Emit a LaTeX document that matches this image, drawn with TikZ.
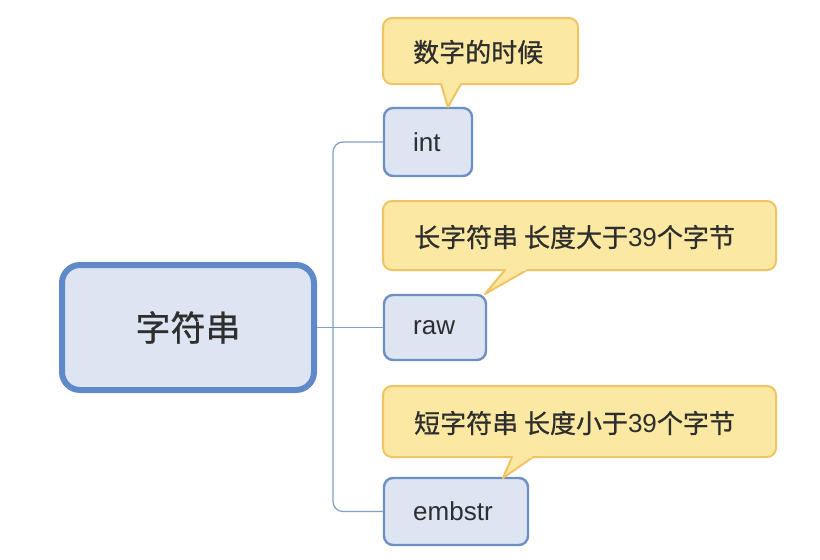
\documentclass[tikz,border=0pt]{standalone}
\usepackage{fontspec}
\setmainfont{Liberation Sans}
\newfontfamily\cjk[FakeBold=0.8]{Noto Sans CJK SC}
\usetikzlibrary{calc}
\begin{document}
\begin{tikzpicture}[x=1pt,y=-1pt,
  every node/.style={font=\fontsize{26}{29}\selectfont, text=txt},
  subbox/.style={draw=nodeborder, fill=nodefill, line width=2.4pt, rounded corners=9pt, inner sep=0pt},
  mainbox/.style={draw=mainborder, fill=nodefill, line width=6pt, rounded corners=18pt, inner sep=0pt, font=\fontsize{35}{38}\selectfont},
  notebox/.style={draw=noteborder, fill=notefill, line width=2pt, rounded corners=9pt, inner sep=0pt},
  label/.style={anchor=west, inner sep=0pt},
  pointer/.style={draw=noteborder, fill=notefill, line width=2pt, line join=round},
  conn/.style={draw=connline, line width=1.2pt, rounded corners=10pt}]
\definecolor{nodefill}{HTML}{DDE5F2}
\definecolor{nodeborder}{HTML}{6E8FC3}
\definecolor{mainborder}{HTML}{6089CA}
\definecolor{notefill}{HTML}{FBE8A2}
\definecolor{noteborder}{HTML}{F0C465}
\definecolor{connline}{HTML}{819FC7}
\definecolor{txt}{HTML}{2E2E2E}
\useasboundingbox (0,0) rectangle (820,560);
\fill[white] (0,0) rectangle (820,560);

% main node
\node[mainbox, minimum width=252pt, minimum height=125pt] (main) at (188,327.5) {\cjk 字符串};

% sub nodes
\node[subbox, minimum width=88pt, minimum height=68pt] (int) at (428,142) {};
\node[subbox, minimum width=102pt, minimum height=65pt] (raw) at (435,327.5) {};
\node[subbox, minimum width=144pt, minimum height=67pt] (emb) at (456,511.5) {};
\node[label] (intt) at (413,142) {int};
\node[label] (rawt) at (413,327.5) {raw};
\node[label] (embt) at (413,511.5) {embstr};

% connectors
\coordinate (spine) at (333,327.5);
\draw[conn] (main.east) -- (raw.west);
\draw[conn] (spine) |- (int.west);
\draw[conn] (spine) |- (emb.west);

% callouts
\node[notebox, minimum width=195pt, minimum height=66pt] (n1) at (480.5,51) {};
\node[notebox, minimum width=393pt, minimum height=69pt] (n2) at (579.5,235.5) {};
\node[notebox, minimum width=393pt, minimum height=71pt] (n3) at (579.5,421.5) {};
\node[label] (n1t) at (413,52) {\cjk 数字的时候};
\node[label] (n2t) at (414,237) {{\cjk 长字符串 长度大于}39{\cjk 个字节}};
\node[label] (n3t) at (414,423) {{\cjk 短字符串 长度小于}39{\cjk 个字节}};

% pointers
\coordinate (a1) at (441,84); \coordinate (b1) at (461,84); \coordinate (t1) at (448,107);
\coordinate (a2) at (505,270); \coordinate (b2) at (527,270); \coordinate (t2) at (485,294);
\coordinate (a3) at (512,457); \coordinate (b3) at (533,457); \coordinate (t3) at (503,478);
\foreach \i in {1,2,3}{
  \filldraw[pointer] (a\i) -- (t\i) -- (b\i);
  \fill[notefill] ($(a\i)+(1.4,-2)$) rectangle ($(b\i)+(-1.4,0.6)$);
}
\end{tikzpicture}
\end{document}
